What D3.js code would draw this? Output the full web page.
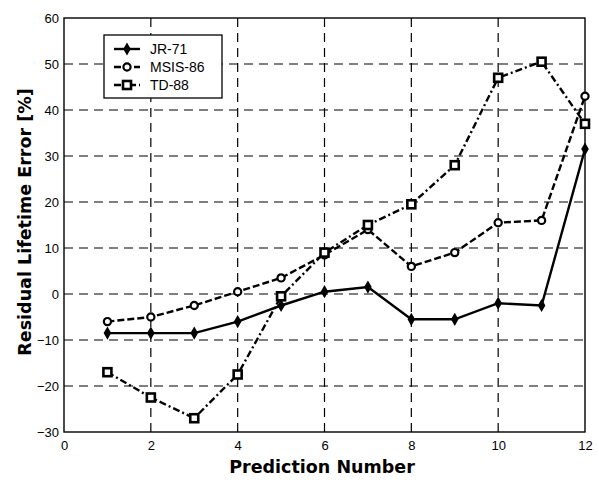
<!DOCTYPE html>
<html lang="en">
<head>
    <meta charset="UTF-8" />
    <title>Residual Lifetime Error</title>
    <style>
        body { margin: 0; background: #fff; }
        svg { font-family: "Liberation Sans", Arial, sans-serif; }
    </style>
</head>
<body>
    <div id="container"></div>
</body>
<script src="https://cdnjs.cloudflare.com/ajax/libs/d3/7.1.1/d3.min.js"></script>
<script>
    let predictions = [1, 2, 3, 4, 5, 6, 7, 8, 9, 10, 11, 12],
        jr71 = [-8.5, -8.5, -8.5, -6, -2.5, 0.5, 1.5, -5.5, -5.5, -2, -2.5, 31.5],
        msis86 = [-6, -5, -2.5, 0.5, 3.5, 8.5, 14, 6, 9, 15.5, 16, 43],
        td88 = [-17, -22.5, -27, -17.5, -0.5, 9, 15, 19.5, 28, 47, 50.5, 37],
        xTicks = [0, 2, 4, 6, 8, 10, 12],
        yTicks = [-30, -20, -10, 0, 10, 20, 30, 40, 50, 60];

    let width = 599, height = 482,
        margin = { top: 18, right: 14, bottom: 50, left: 64 };

    let x = d3.scaleLinear().domain([0, 12]).range([margin.left, width - margin.right]);
    let y = d3.scaleLinear().domain([-30, 60]).range([height - margin.bottom, margin.top]);

    let svg = d3.select("#container").append("svg").attr("width", width).attr("height", height);

    // grid
    svg.append("g").selectAll("line").data(xTicks.slice(1, -1)).enter().append("line")
        .attr("x1", d => x(d)).attr("x2", d => x(d))
        .attr("y1", y(-30)).attr("y2", y(60))
        .attr("stroke", "#000").attr("stroke-width", 1.2).attr("stroke-dasharray", "9,6");
    svg.append("g").selectAll("line").data(yTicks.slice(1, -1)).enter().append("line")
        .attr("x1", x(0)).attr("x2", x(12))
        .attr("y1", d => y(d)).attr("y2", d => y(d))
        .attr("stroke", "#000").attr("stroke-width", 1.2).attr("stroke-dasharray", "9,6");

    // frame
    svg.append("rect")
        .attr("x", x(0)).attr("y", y(60))
        .attr("width", x(12) - x(0)).attr("height", y(-30) - y(60))
        .attr("fill", "none").attr("stroke", "#000").attr("stroke-width", 1.4);

    // axes
    let xAxis = svg.append("g").attr("transform", `translate(0,${y(-30)})`)
        .call(d3.axisBottom(x).tickValues(xTicks).tickSize(0).tickPadding(9));
    let yAxis = svg.append("g").attr("transform", `translate(${x(0)},0)`)
        .call(d3.axisLeft(y).tickValues(yTicks).tickSize(0).tickPadding(5));
    [xAxis, yAxis].forEach(a => {
        a.select(".domain").remove();
        a.selectAll("text").attr("font-size", 13).attr("fill", "#000")
            .attr("font-family", "Liberation Sans, Arial, sans-serif");
    });

    // axis titles
    svg.append("text").text("Prediction Number")
        .attr("x", 322).attr("y", 473)
        .attr("text-anchor", "middle").attr("font-size", 17.5).attr("font-weight", "bold")
        .attr("font-family", "DejaVu Sans, Verdana, sans-serif");
    svg.append("text").text("Residual Lifetime Error [%]")
        .attr("transform", `translate(31,222) rotate(-90)`)
        .attr("text-anchor", "middle").attr("font-size", 17.5).attr("font-weight", "bold")
        .attr("font-family", "DejaVu Sans, Verdana, sans-serif");

    let series = [
        { name: "JR-71", values: jr71, dash: null, marker: "diamond" },
        { name: "MSIS-86", values: msis86, dash: "7,3", marker: "circle" },
        { name: "TD-88", values: td88, dash: "7,3,2,3", marker: "square" }
    ];

    let line = d3.line().x((d, i) => x(predictions[i])).y(d => y(d));

    function drawMarker(g, type, cx, cy) {
        if (type === "diamond") {
            g.append("path").attr("d", d3.symbol().type(d3.symbolDiamond).size(50)())
                .attr("transform", `translate(${cx},${cy})`).attr("fill", "#000");
        } else if (type === "circle") {
            g.append("circle").attr("cx", cx).attr("cy", cy).attr("r", 3.6)
                .attr("fill", "#fff").attr("stroke", "#000").attr("stroke-width", 2.2);
        } else {
            g.append("rect").attr("x", cx - 4).attr("y", cy - 4).attr("width", 8).attr("height", 8)
                .attr("fill", "#fff").attr("stroke", "#000").attr("stroke-width", 2.6);
        }
    }

    series.forEach(s => {
        svg.append("path").datum(s.values).attr("d", line)
            .attr("fill", "none").attr("stroke", "#000").attr("stroke-width", 2.4)
            .attr("stroke-dasharray", s.dash);
        let g = svg.append("g");
        s.values.forEach((v, i) => drawMarker(g, s.marker, x(predictions[i]), y(v)));
    });

    // legend
    let lg = svg.append("g").attr("transform", "translate(104,35)");
    lg.append("rect").attr("width", 118).attr("height", 63)
        .attr("fill", "#fff").attr("stroke", "#000").attr("stroke-width", 1.3);
    series.forEach((s, i) => {
        let ly = 14 + i * 18;
        lg.append("line").attr("x1", 10).attr("x2", 36).attr("y1", ly).attr("y2", ly)
            .attr("stroke", "#000").attr("stroke-width", 2.4).attr("stroke-dasharray", s.dash);
        drawMarker(lg, s.marker, 23, ly);
        lg.append("text").text(s.name).attr("x", 46).attr("y", ly + 5)
            .attr("font-size", 14).attr("fill", "#000");
    });
</script>
</html>
